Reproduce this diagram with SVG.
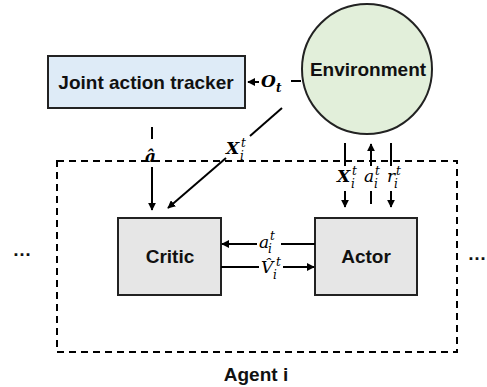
<svg xmlns="http://www.w3.org/2000/svg" width="487" height="387" viewBox="0 0 487 387">
<style>
.box{stroke:#222;stroke-width:2}
.lbl{font-family:"Liberation Sans",Arial,sans-serif;font-weight:bold;font-size:19px;fill:#111;text-anchor:middle}
.ln{stroke:#000;stroke-width:2;fill:none}
.m{font-family:"DejaVu Serif","Liberation Serif",serif;font-style:italic;fill:#000;font-size:17px}
.b{font-weight:bold}
.s{font-size:12px}
</style>
<defs>
<marker id="ah" viewBox="0 0 10 10" refX="9" refY="5" markerWidth="4" markerHeight="4" orient="auto" markerUnits="strokeWidth">
<path d="M0,0 L10,5 L0,10 z" fill="#000"/>
</marker>
</defs>
<g id="agent">
<rect x="57" y="161" width="400" height="191" fill="none" stroke="#000" stroke-width="2" stroke-dasharray="7,5"/>
<text class="lbl" x="256" y="381">Agent i</text>
</g>
<g id="tracker">
<rect class="box" x="48" y="56" width="197" height="52" fill="#deebf7"/>
<text class="lbl" x="146" y="89">Joint action tracker</text>
</g>
<g id="environment">
<circle class="box" cx="367" cy="69" r="65" fill="#e2efda"/>
<text class="lbl" x="368" y="76">Environment</text>
</g>
<g id="critic">
<rect class="box" x="118" y="218" width="103" height="77" fill="#e6e6e6"/>
<text class="lbl" x="170" y="263">Critic</text>
</g>
<g id="actor">
<rect class="box" x="315" y="218" width="102" height="77" fill="#e6e6e6"/>
<text class="lbl" x="366" y="263">Actor</text>
</g>
<g id="connectors">
<line class="ln" x1="291" y1="81" x2="301" y2="81"/>
<line class="ln" x1="259" y1="82" x2="248" y2="82" marker-end="url(#ah)"/>
<line class="ln" x1="152" y1="127" x2="152" y2="139"/>
<line class="ln" x1="152" y1="167" x2="152" y2="210" marker-end="url(#ah)"/>
<line class="ln" x1="282" y1="108" x2="250" y2="136"/>
<line class="ln" x1="226" y1="158" x2="168" y2="208" marker-end="url(#ah)"/>
<line class="ln" x1="345" y1="143" x2="345" y2="166"/>
<line class="ln" x1="345" y1="191" x2="345" y2="207" marker-end="url(#ah)"/>
<line class="ln" x1="371" y1="204" x2="371" y2="191"/>
<line class="ln" x1="371" y1="166" x2="371" y2="144" marker-end="url(#ah)"/>
<line class="ln" x1="391" y1="143" x2="391" y2="166"/>
<line class="ln" x1="391" y1="191" x2="391" y2="207" marker-end="url(#ah)"/>
<line class="ln" x1="315" y1="244" x2="281" y2="244"/>
<line class="ln" x1="257" y1="244" x2="222" y2="244" marker-end="url(#ah)"/>
<line class="ln" x1="221" y1="267" x2="259" y2="267"/>
<line class="ln" x1="283" y1="267" x2="314" y2="267" marker-end="url(#ah)"/>
</g>
<g id="labels">
<text class="m b" x="261" y="87">O</text>
<text class="m b s" x="276" y="92">t</text>
<text class="m b" x="145" y="162" font-size="22">â</text>
<text class="m b" x="226" y="154" font-size="15">X</text>
<text class="m s" x="240" y="160">i</text>
<text class="m s" x="241" y="147">t</text>
<text class="m b" x="337" y="182" font-size="15">X</text>
<text class="m s" x="351" y="188">i</text>
<text class="m s" x="352" y="175">t</text>
<text class="m" x="364" y="182">a</text>
<text class="m s" x="374" y="188">i</text>
<text class="m s" x="375" y="175">t</text>
<text class="m" x="387" y="182">r</text>
<text class="m s" x="394" y="188">i</text>
<text class="m s" x="396" y="175">t</text>
<text class="m" x="259" y="248">a</text>
<text class="m s" x="268" y="253">i</text>
<text class="m s" x="270" y="240">t</text>
<text class="m" x="261" y="273" font-size="16">V̂</text>
<text class="m s" x="273" y="279">i</text>
<text class="m s" x="276" y="266">t</text>
<text class="lbl" x="22" y="256" font-weight="normal">…</text>
<text class="lbl" x="477" y="260" font-weight="normal" text-anchor="end">…</text>
</g>
</svg>
